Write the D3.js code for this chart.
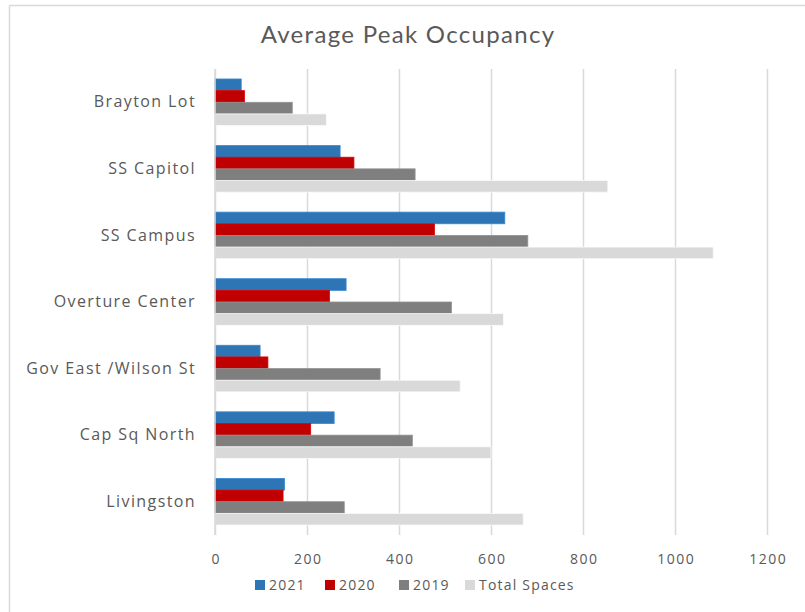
<!DOCTYPE html>
<html>
<head>
<meta charset="utf-8">
<script src="https://cdn.jsdelivr.net/npm/d3@7"></script>
<style>
  html, body { margin: 0; padding: 0; background: #fff; }
  svg { display: block; }
  text { font-family: "Open Sans", "Noto Sans", sans-serif; fill: #595959; }
</style>
</head>
<body>
<svg id="chart" width="805" height="612"></svg>
<script>
const categories = ["Brayton Lot", "SS Capitol", "SS Campus", "Overture Center", "Gov East /Wilson St", "Cap Sq North", "Livingston"];
const seriesNames = ["2021", "2020", "2019", "Total Spaces"];
const values2021 = [57, 272, 630, 285, 98, 259, 151];
const values2020 = [64, 302, 477, 249, 115, 208, 148];
const values2019 = [168, 435, 680, 514, 359, 429, 281];
const totalSpaces = [242, 854, 1083, 627, 533, 600, 670];
const tickValues = [0, 200, 400, 600, 800, 1000, 1200];
const colors = ["#2e75b6", "#c00000", "#7f7f7f", "#d9d9d9"];

const seriesValues = [values2021, values2020, values2019, totalSpaces];
const svg = d3.select("#chart");

// chart border (top and left)
svg.append("line").attr("x1", 9.5).attr("x2", 805).attr("y1", 5.5).attr("y2", 5.5).attr("stroke", "#d9d9d9").attr("stroke-width", 1.5);
svg.append("line").attr("x1", 9.5).attr("x2", 9.5).attr("y1", 5.5).attr("y2", 612).attr("stroke", "#d9d9d9").attr("stroke-width", 1.5);

const pLeft = 215, pRight = 767, pTop = 69, pBottom = 535;
const x = d3.scaleLinear().domain([0, 1200]).range([pLeft, pRight]);
const y = d3.scaleBand().domain(categories).range([pTop, pBottom]).paddingInner(0.3).paddingOuter(0.15);
const ySub = d3.scaleBand().domain(seriesNames).range([0, y.bandwidth()]);

// title
svg.append("text").attr("x", 408).attr("y", 43).attr("text-anchor", "middle")
  .style("font-family", "Lato, 'Open Sans', sans-serif").style("font-size", "24px")
  .style("letter-spacing", "1.3px").text("Average Peak Occupancy");

// gridlines
const grid = d3.axisBottom(x).tickValues(tickValues).tickSize(-(pBottom - pTop)).tickFormat("");
svg.append("g").attr("transform", `translate(0,${pBottom})`).call(grid)
  .call(g => g.select(".domain").remove())
  .call(g => g.selectAll("line").attr("stroke", "#d9d9d9").attr("stroke-width", 1.5));

// bars
const rows = categories.map((c, i) => ({ c, vals: seriesValues.map((s, k) => ({ name: seriesNames[k], v: s[i], k })) }));
const groups = svg.append("g").selectAll("g").data(rows).join("g")
  .attr("transform", d => `translate(0,${y(d.c)})`);
groups.selectAll("rect").data(d => d.vals).join("rect")
  .attr("x", x(0))
  .attr("y", d => ySub(d.name))
  .attr("width", d => x(d.v) - x(0))
  .attr("height", ySub.bandwidth())
  .attr("fill", d => colors[d.k])
  .attr("stroke", d => d3.color(colors[d.k]).brighter(0.4))
  .attr("stroke-width", 0.8);

// category axis line
svg.append("line").attr("x1", x(0)).attr("x2", x(0)).attr("y1", pTop).attr("y2", pBottom)
  .attr("stroke", "#d9d9d9").attr("stroke-width", 1.5);

// category labels
const yAxis = d3.axisLeft(y).tickSize(0).tickPadding(19);
svg.append("g").attr("transform", `translate(${pLeft},0)`).call(yAxis)
  .call(g => g.select(".domain").remove())
  .call(g => g.selectAll("text").style("font-size", "16px").style("letter-spacing", "1.4px")
    .style("font-family", "'Open Sans', sans-serif").attr("fill", "#595959"));

// x tick labels
const xAxis = d3.axisBottom(x).tickValues(tickValues).tickSize(0).tickPadding(19).tickFormat(d3.format("d"));
svg.append("g").attr("transform", `translate(0,${pBottom})`).call(xAxis)
  .call(g => g.select(".domain").remove())
  .call(g => g.selectAll("text").attr("dx", "0.75px").style("font-size", "14px").style("letter-spacing", "1.5px")
    .style("font-family", "'Open Sans', sans-serif").attr("fill", "#595959"));

// legend
const legendX = [255, 325, 399, 465];
const legend = svg.append("g").selectAll("g").data(seriesNames).join("g")
  .attr("transform", (d, i) => `translate(${legendX[i]},585)`);
legend.append("rect").attr("x", 0).attr("y", -5).attr("width", 10).attr("height", 10)
  .attr("fill", (d, i) => colors[i]);
legend.append("text").attr("x", 14).attr("y", 0).attr("dy", "0.35em")
  .style("font-size", "14px").style("letter-spacing", "1.2px")
  .style("font-family", "'Open Sans', sans-serif").text(d => d);
</script>
</body>
</html>
